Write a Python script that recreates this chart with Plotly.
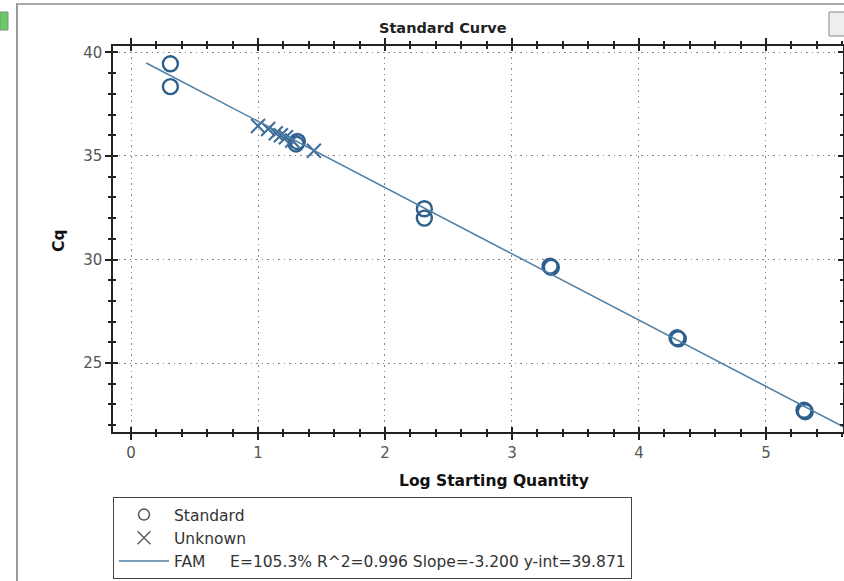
import plotly.graph_objects as go

# Data
std_x = [0.31, 0.31, 1.31, 1.30, 2.31, 2.31, 3.30, 3.31, 4.30, 4.31, 5.30, 5.31]
std_y = [39.45, 38.35, 35.70, 35.58, 32.45, 32.00, 29.68, 29.62, 26.22, 26.17, 22.72, 22.65]

unk_x = [1.00, 1.08, 1.14, 1.18, 1.22, 1.27, 1.44]
unk_y = [36.45, 36.30, 36.10, 36.00, 35.90, 35.75, 35.25]

fit_x = [0.12, 5.62]
fit_y = [39.49, 21.89]

x_ticks = [0, 1, 2, 3, 4, 5]
y_ticks = [25, 30, 35, 40]

fit_label = "FAM\u00a0\u00a0\u00a0\u00a0\u00a0E=105.3% R^2=0.996 Slope=-3.200 y-int=39.871"

FONT = "DejaVu Sans, Verdana, sans-serif"

W, H = 844, 581
ML, MR, MT, MB = 113, 1, 46, 149
plot_w = W - ML - MR
plot_h = H - MT - MB

def px(xp):
    return (xp - ML) / plot_w

def py(yp):
    return (H - MB - yp) / plot_h

XR = [-0.142, 5.607]
YR = [21.67, 40.31]

fig = go.Figure()
# data traces
fig.add_trace(go.Scatter(
    x=std_x, y=std_y, mode="markers", name="Standard", showlegend=False,
    marker=dict(symbol="circle-open", size=15, color="#2e5f8c", line=dict(width=2.4, color="#2e5f8c")),
))
fig.add_trace(go.Scatter(
    x=unk_x, y=unk_y, mode="markers", name="Unknown", showlegend=False,
    marker=dict(symbol="x-thin-open", size=14, color="#3b6c98", line=dict(width=2, color="#3b6c98")),
))
fig.add_trace(go.Scatter(
    x=fit_x, y=fit_y, mode="lines", name=fit_label, showlegend=False,
    line=dict(color="#4d7fa6", width=1.5),
))
# legend entries (styled like the reference legend)
fig.add_trace(go.Scatter(
    x=[None], y=[None], mode="markers", name="Standard",
    marker=dict(symbol="circle-open", size=11, color="#555", line=dict(width=1.5, color="#555")),
))
fig.add_trace(go.Scatter(
    x=[None], y=[None], mode="markers", name="Unknown",
    marker=dict(symbol="x-thin-open", size=13, color="#555", line=dict(width=1.3, color="#555")),
))
fig.add_trace(go.Scatter(
    x=[None], y=[None], mode="lines", name=fit_label,
    line=dict(color="#4d7fa6", width=1.5),
))
# helper trace for the inner tick axes
fig.add_trace(go.Scatter(x=[None], y=[None], xaxis="x2", yaxis="y2", showlegend=False, hoverinfo="skip"))

axis_common = dict(
    showline=True, linecolor="#222", linewidth=1.5, mirror="ticks",
    ticks="outside", ticklen=6, tickwidth=1.5, tickcolor="#222",
    showgrid=True, gridcolor="#888", griddash="1.5px,4px", gridwidth=1.2,
    zeroline=False, automargin=False,
    tickfont=dict(family=FONT, size=15, color="#555"),
)
inner_common = dict(
    showline=False, mirror="ticks", ticks="inside", ticklen=5, tickwidth=1.5, tickcolor="#222",
    showgrid=False, zeroline=False, showticklabels=False, automargin=False,
)

fig.update_layout(
    width=W, height=H,
    margin=dict(l=ML, r=MR, t=MT, b=MB),
    paper_bgcolor="white", plot_bgcolor="white",
    font=dict(family=FONT, color="#222"),
    showlegend=True,
    legend=dict(
        x=0.0, xanchor="left", y=py(497), yanchor="top",
        bordercolor="#444", borderwidth=1, bgcolor="white",
        font=dict(family=FONT, size=15.5, color="#333"),
        itemwidth=50, tracegroupgap=0,
    ),
    xaxis=dict(
        range=XR, tickmode="array", tickvals=x_ticks,
        minor=dict(dtick=0.2, ticks="outside", ticklen=3, tickcolor="#222", showgrid=False),
        **axis_common,
    ),
    yaxis=dict(
        range=YR, tickmode="array", tickvals=y_ticks,
        minor=dict(dtick=1, ticks="outside", ticklen=3, tickcolor="#222", showgrid=False),
        **axis_common,
    ),
    xaxis2=dict(
        range=XR, overlaying="x", anchor="y2", tickmode="array", tickvals=x_ticks,
        minor=dict(dtick=0.2, ticks="inside", ticklen=3, tickcolor="#222", showgrid=False),
        **inner_common,
    ),
    yaxis2=dict(
        range=YR, overlaying="y", anchor="x2", tickmode="array", tickvals=y_ticks,
        minor=dict(dtick=1, ticks="inside", ticklen=3, tickcolor="#222", showgrid=False),
        **inner_common,
    ),
    annotations=[
        dict(text="<b>Standard Curve</b>", x=px(443), y=py(28), xref="paper", yref="paper",
             xanchor="center", yanchor="middle", showarrow=False,
             font=dict(family=FONT, size=14.5, color="#222")),
        dict(text="<b>Log Starting Quantity</b>", x=px(494), y=py(481), xref="paper", yref="paper",
             xanchor="center", yanchor="middle", showarrow=False,
             font=dict(family=FONT, size=15.5, color="#111")),
        dict(text="<b>Cq</b>", x=px(59), y=py(241), xref="paper", yref="paper",
             xanchor="center", yanchor="middle", showarrow=False, textangle=-90,
             font=dict(family=FONT, size=15.5, color="#111")),
    ],
)

# Outer panel frame
fig.add_shape(type="line", xref="paper", yref="paper",
              x0=px(17), x1=px(17), y0=py(3), y1=py(581), line=dict(color="#999", width=2))
fig.add_shape(type="line", xref="paper", yref="paper",
              x0=px(17), x1=px(844), y0=py(4), y1=py(4), line=dict(color="#aaa", width=2))
fig.add_shape(type="rect", xref="paper", yref="paper",
              x0=px(0), x1=px(8), y0=py(12), y1=py(30), line=dict(color="#888", width=1), fillcolor="#6c6")
fig.add_shape(type="rect", xref="paper", yref="paper",
              x0=px(829), x1=px(846), y0=py(12), y1=py(36), line=dict(color="#888", width=1), fillcolor="#eee")

fig.write_html("out.html")
